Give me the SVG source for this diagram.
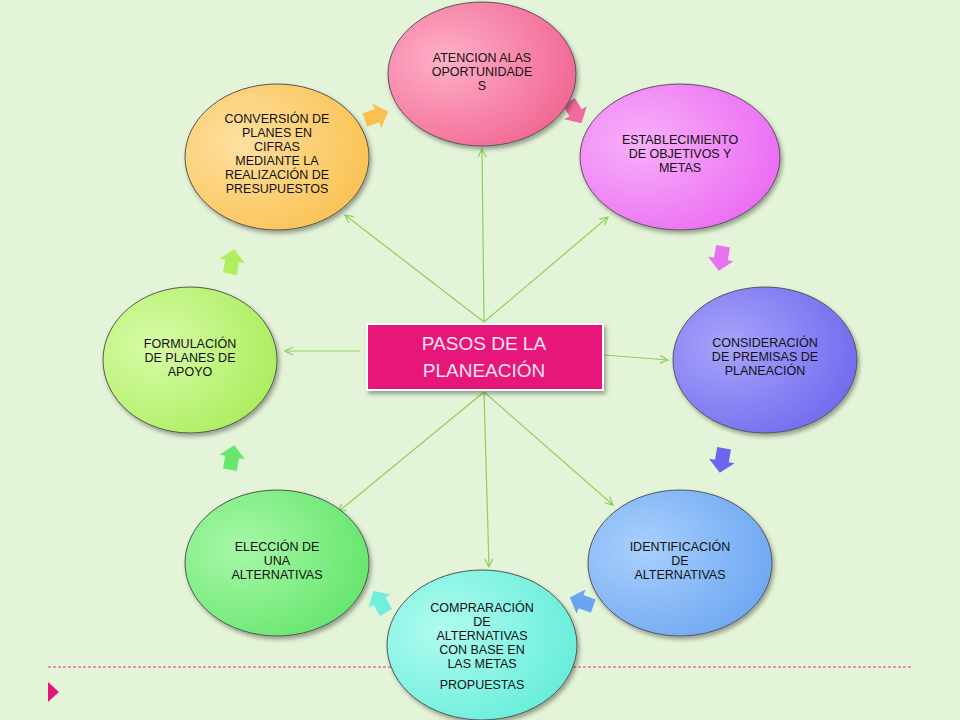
<svg xmlns="http://www.w3.org/2000/svg" width="960" height="720" viewBox="0 0 960 720">
<defs>
<style>
.n{stroke:#555;stroke-width:1;filter:url(#sh)}
.t{font-family:"Liberation Sans",Arial,sans-serif;font-size:12.5px;fill:#111;text-anchor:middle}
.c{stroke:#8fcf5a;stroke-width:1.2;fill:none;marker-end:url(#ah)}
</style>
<filter id="sh" x="-10%" y="-10%" width="125%" height="125%"><feDropShadow dx="2" dy="3" stdDeviation="2" flood-opacity="0.35"/></filter>
<marker id="ah" markerWidth="10" markerHeight="10" refX="9" refY="5" orient="auto" markerUnits="userSpaceOnUse"><path d="M1,1 L9,5 L1,9" fill="none" stroke="#8fcf5a" stroke-width="1.2"/></marker>
<radialGradient id="g1" cx="0.3" cy="0.4" r="0.8"><stop offset="0" stop-color="#ffb0c8"/><stop offset="1" stop-color="#f0608e"/></radialGradient>
<radialGradient id="g2" cx="0.3" cy="0.4" r="0.8"><stop offset="0" stop-color="#f8b0fa"/><stop offset="1" stop-color="#ea66f2"/></radialGradient>
<radialGradient id="g3" cx="0.3" cy="0.4" r="0.8"><stop offset="0" stop-color="#a8a4fa"/><stop offset="1" stop-color="#6c66ee"/></radialGradient>
<radialGradient id="g4" cx="0.3" cy="0.4" r="0.8"><stop offset="0" stop-color="#a8d0fc"/><stop offset="1" stop-color="#6aa4f2"/></radialGradient>
<radialGradient id="g5" cx="0.3" cy="0.4" r="0.8"><stop offset="0" stop-color="#b0fcf0"/><stop offset="1" stop-color="#60ecd8"/></radialGradient>
<radialGradient id="g6" cx="0.3" cy="0.4" r="0.8"><stop offset="0" stop-color="#a8f8a8"/><stop offset="1" stop-color="#60e468"/></radialGradient>
<radialGradient id="g7" cx="0.3" cy="0.4" r="0.8"><stop offset="0" stop-color="#d8fca8"/><stop offset="1" stop-color="#a8ec58"/></radialGradient>
<radialGradient id="g8" cx="0.3" cy="0.4" r="0.8"><stop offset="0" stop-color="#fde0a0"/><stop offset="1" stop-color="#fbbf4c"/></radialGradient>
<polygon id="ba" points="-12,-7 1,-7 1,-13 13,0 1,13 1,7 -12,7"/>
</defs>
<rect width="960" height="720" fill="#e4f4d8"/>
<line x1="48" y1="667" x2="913" y2="667" stroke="#d04070" stroke-width="1" stroke-dasharray="3,2"/>
<polygon points="48,682 59,692 48,702" fill="#e0187a"/>

<g id="blockarrows">
<use href="#ba" transform="translate(575,112) rotate(60)" fill="#f06a9a"/>
<use href="#ba" transform="translate(721,258) rotate(100)" fill="#ea70f0"/>
<use href="#ba" transform="translate(722,460) rotate(100)" fill="#6c66ee"/>
<use href="#ba" transform="translate(582,602) rotate(200)" fill="#6aa4f2"/>
<use href="#ba" transform="translate(380,602) rotate(240)" fill="#70f0dc"/>
<use href="#ba" transform="translate(232,458) rotate(-80)" fill="#66e66c"/>
<use href="#ba" transform="translate(232,262) rotate(-80)" fill="#b0ee60"/>
<use href="#ba" transform="translate(376,116) rotate(-20)" fill="#fbc050"/>
</g>

<g id="connectors">
<line class="c" x1="484" y1="322" x2="482" y2="149"/>
<line class="c" x1="484" y1="322" x2="608" y2="217"/>
<line class="c" x1="484" y1="322" x2="345" y2="215"/>
<line class="c" x1="360" y1="351" x2="285" y2="351"/>
<line class="c" x1="604" y1="355" x2="668" y2="360"/>
<line class="c" x1="484" y1="392" x2="489" y2="567"/>
<line class="c" x1="484" y1="392" x2="613" y2="505"/>
<line class="c" x1="484" y1="392" x2="338" y2="512"/>
</g>

<g id="n1"><ellipse class="n" cx="482" cy="74" rx="94" ry="72" fill="url(#g1)"/>
<text class="t" x="482" y="62">ATENCION ALAS</text><text class="t" x="482" y="76">OPORTUNIDADE</text><text class="t" x="482" y="90">S</text></g>
<g id="n2"><ellipse class="n" cx="680" cy="157" rx="100" ry="73" fill="url(#g2)"/>
<text class="t" x="680" y="144">ESTABLECIMIENTO</text><text class="t" x="680" y="158">DE OBJETIVOS Y</text><text class="t" x="680" y="172">METAS</text></g>
<g id="n3"><ellipse class="n" cx="765" cy="360" rx="92" ry="73" fill="url(#g3)"/>
<text class="t" x="765" y="347">CONSIDERACIÓN</text><text class="t" x="765" y="361">DE PREMISAS DE</text><text class="t" x="765" y="375">PLANEACIÓN</text></g>
<g id="n4"><ellipse class="n" cx="680" cy="563" rx="92" ry="73" fill="url(#g4)"/>
<text class="t" x="680" y="551">IDENTIFICACIÓN</text><text class="t" x="680" y="565">DE</text><text class="t" x="680" y="579">ALTERNATIVAS</text></g>
<g id="n5"><ellipse class="n" cx="482" cy="645" rx="95" ry="75" fill="url(#g5)"/>
<text class="t" x="482" y="612">COMPRARACIÓN</text><text class="t" x="482" y="626">DE</text><text class="t" x="482" y="640">ALTERNATIVAS</text><text class="t" x="482" y="654">CON BASE EN</text><text class="t" x="482" y="668">LAS METAS</text><text class="t" x="482" y="689">PROPUESTAS</text></g>
<g id="n6"><ellipse class="n" cx="277" cy="563" rx="92" ry="73" fill="url(#g6)"/>
<text class="t" x="277" y="551">ELECCIÓN DE</text><text class="t" x="277" y="565">UNA</text><text class="t" x="277" y="579">ALTERNATIVAS</text></g>
<g id="n7"><ellipse class="n" cx="190" cy="360" rx="87" ry="73" fill="url(#g7)"/>
<text class="t" x="190" y="348">FORMULACIÓN</text><text class="t" x="190" y="362">DE PLANES DE</text><text class="t" x="190" y="376">APOYO</text></g>
<g id="n8"><ellipse class="n" cx="277" cy="157" rx="92" ry="73" fill="url(#g8)"/>
<text class="t" x="277" y="123">CONVERSIÓN DE</text><text class="t" x="277" y="137">PLANES EN</text><text class="t" x="277" y="151">CIFRAS</text><text class="t" x="277" y="165">MEDIANTE LA</text><text class="t" x="277" y="179">REALIZACIÓN DE</text><text class="t" x="277" y="193">PRESUPUESTOS</text></g>

<g id="center">
<rect x="367" y="324" width="236" height="66" fill="#e6177a" stroke="#fff" stroke-width="2" filter="url(#sh)"/>
<text x="484" y="350" font-family="'Liberation Sans',Arial,sans-serif" font-size="19" fill="#fbe4ee" text-anchor="middle">PASOS DE LA</text>
<text x="484" y="377" font-family="'Liberation Sans',Arial,sans-serif" font-size="19" fill="#fbe4ee" text-anchor="middle">PLANEACIÓN</text>
</g>
</svg>
